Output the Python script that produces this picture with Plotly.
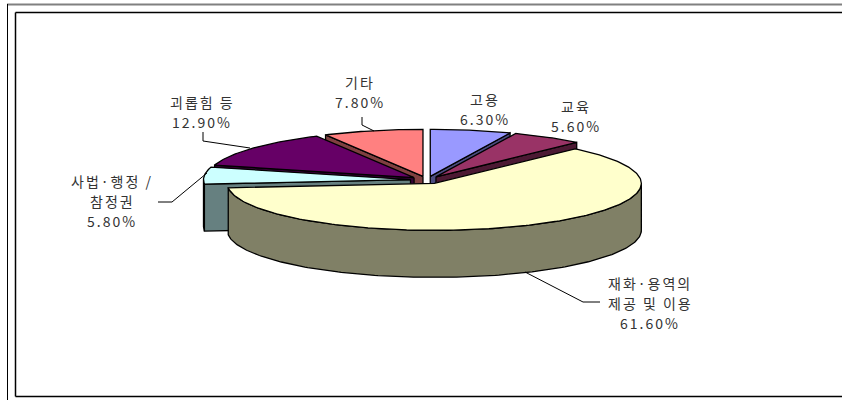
import numpy as np
import plotly.graph_objects as go

# Shares of cases by field (%), clockwise from 12 o'clock
categories = ["고용", "교육", "재화·용역의\n제공 및 이용", "사법·행정 /\n참정권", "괴롭힘 등", "기타"]
shares = [6.3, 5.6, 61.6, 5.8, 12.9, 7.8]

top_colors = ["#9999FF", "#993366", "#FFFFCC", "#CCFFFF", "#660066", "#FF8080"]
side_colors = ["#4C4C80", "#4C1933", "#808066", "#668080", "#330033", "#804040"]

# label placement (x centre, y of first line) and leader polylines, in page pixels
label_pos = [(485, 99), (576, 106), (650, 283), (112, 181), (202, 102), (360, 82)]
leaders = [
    None,
    None,
    [(525, 272), (583, 302), (600, 302)],
    [(158, 202), (172, 202), (207, 173)],
    [(203, 132), (203, 141), (250, 148)],
    [(362, 117), (362, 125), (374, 131)],
]

W, H_PX = 842, 400
CX, CY = 427.0, 180.0      # centre of the pie top
RA, RB = 207.0, 47.0       # ellipse radii of the tilted disc
DEPTH = 47.0               # thickness of the disc
EXPLODE = 0.08             # radial offset of every slice, fraction of radius
LINE = dict(color="black", width=1.3)

fig = go.Figure()


def rim(ox, oy, deg):
    t = np.radians(deg)
    return ox + RA * np.sin(t), oy - RB * np.cos(t)


def arc(ox, oy, d0, d1, dy=0.0):
    n = max(2, int(abs(d1 - d0)) + 2)
    ts = np.linspace(d0, d1, n)
    xs, ys = rim(ox, oy, ts)
    return list(xs), list(ys + dy)


def poly(xs, ys, color):
    fig.add_trace(go.Scatter(
        x=xs + [xs[0]], y=ys + [ys[0]], mode="lines", fill="toself",
        fillcolor=color, line=LINE, hoverinfo="skip", showlegend=False))


total = sum(shares)
bounds = np.concatenate([[0.0], np.cumsum(shares)]) * 360.0 / total

slices = []
for i in range(len(shares)):
    s, e = bounds[i], bounds[i + 1]
    mid = np.radians((s + e) / 2)
    ox = CX + EXPLODE * RA * np.sin(mid)
    oy = CY - EXPLODE * RB * np.cos(mid)
    slices.append((-np.cos(mid), i, s, e, ox, oy))

# paint from the back of the disc to the front
for _, i, s, e, ox, oy in sorted(slices):
    # outer curved wall, only the half facing the viewer
    w0, w1 = max(s, 90.0), min(e, 270.0)
    if w1 > w0:
        tx, ty = arc(ox, oy, w0, w1)
        bx, by = arc(ox, oy, w1, w0, DEPTH)
        poly(tx + bx, ty + by, side_colors[i])
    # radial cut faces that turn toward the viewer
    for ang, show in ((s, np.sin(np.radians(s)) < -1e-9),
                      (e, np.sin(np.radians(e)) > 1e-9)):
        if show:
            rx, ry = rim(ox, oy, ang)
            poly([ox, rx, rx, ox], [oy, ry, ry + DEPTH, oy + DEPTH], side_colors[i])
    # top face
    tx, ty = arc(ox, oy, s, e)
    poly([ox] + tx, [oy] + ty, top_colors[i])

# leader lines
for pts in leaders:
    if pts:
        fig.add_trace(go.Scatter(
            x=[p[0] for p in pts], y=[p[1] for p in pts], mode="lines",
            line=dict(color="black", width=1), hoverinfo="skip", showlegend=False))

# labels: category name lines followed by the share
LINE_GAP = 20
for i, name in enumerate(categories):
    lines = name.split("\n") + [f"{shares[i]:.2f}%"]
    x0, y0 = label_pos[i]
    for k, txt in enumerate(lines):
        fig.add_annotation(
            x=x0, y=y0 + k * LINE_GAP, xref="x", yref="y",
            text=f'<span style="letter-spacing:2px">{txt}</span>',
            showarrow=False, xanchor="center", yanchor="middle",
            font=dict(family="Noto Sans CJK KR, Noto Sans, sans-serif", size=14, color="#333333"))

# chart frame
shapes = [
    dict(type="line", x0=7, y0=4.5, x1=W, y1=4.5, line=dict(color="#808080", width=2)),
    dict(type="line", x0=7.5, y0=4, x1=7.5, y1=H_PX, line=dict(color="black", width=1)),
    dict(type="line", x0=15.5, y0=12.5, x1=W, y1=12.5, line=dict(color="black", width=1.5)),
    dict(type="line", x0=15.5, y0=12.5, x1=15.5, y1=396.5, line=dict(color="black", width=1.5)),
    dict(type="line", x0=15.5, y0=396.5, x1=W, y1=396.5, line=dict(color="black", width=1.5)),
]
for sh in shapes:
    sh.update(xref="x", yref="y", layer="above")

fig.update_layout(
    width=W, height=H_PX, autosize=False,
    margin=dict(l=0, r=0, t=0, b=0),
    paper_bgcolor="white", plot_bgcolor="white",
    xaxis=dict(range=[0, W], visible=False, fixedrange=True),
    yaxis=dict(range=[H_PX, 0], visible=False, fixedrange=True),
    shapes=shapes,
)

fig.write_html("out.html", config={"displayModeBar": False})
